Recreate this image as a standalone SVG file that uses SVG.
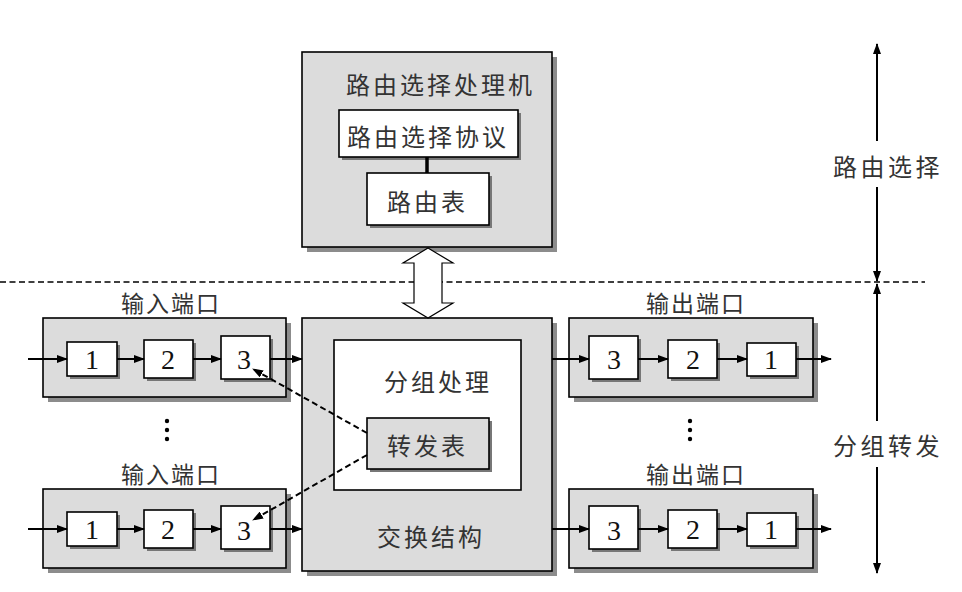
<svg xmlns="http://www.w3.org/2000/svg" width="962" height="592" viewBox="0 0 962 592">
<style>
.box{fill:#dcdcdc;stroke:#000;stroke-width:1.6}
.wbox{fill:#fff;stroke:#000;stroke-width:1.6}
.sh{fill:#8c8c8c}
.sh2{fill:#777}
.cn{font-family:"Noto Sans CJK SC","Noto Sans CJK JP",sans-serif;font-size:24px;letter-spacing:3px;fill:#333}
.cs{font-family:"Noto Sans CJK SC","Noto Sans CJK JP",sans-serif;font-size:23px;letter-spacing:2px;fill:#333}
.num{font-family:"Liberation Serif",serif;font-size:28px;fill:#111;text-anchor:middle}
.ln{stroke:#000;stroke-width:2;fill:none}
.dl{stroke:#000;stroke-width:2;fill:none;stroke-dasharray:6 3.5}
</style>
<defs>
<marker id="ah" viewBox="0 0 11 8" refX="10" refY="4" markerWidth="11" markerHeight="8" orient="auto" markerUnits="userSpaceOnUse"><path d="M0,0 L11,4 L0,8 z" fill="#000"/></marker>
</defs>

<!-- separator -->
<line x1="0" y1="282" x2="925" y2="282" stroke="#000" stroke-width="1.6" stroke-dasharray="6 3.5"/>

<g id="routing-processor">
<rect class="sh" x="307" y="57" width="250" height="195"/>
<rect class="box" x="302" y="52" width="250" height="195"/>
<text class="cn" x="346" y="94">路由选择处理机</text>
</g>
<g id="routing-protocol">
<rect class="sh2" x="342" y="113" width="179" height="47"/>
<rect class="wbox" x="339" y="110" width="179" height="47"/>
<text class="cn" x="347" y="146">路由选择协议</text>
</g>
<g id="routing-table">
<rect class="sh2" x="370" y="176" width="122" height="52"/>
<rect class="wbox" x="367" y="173" width="122" height="52"/>
<text class="cn" x="387" y="211">路由表</text>
</g>

<g id="switch-fabric">
<rect class="sh" x="307" y="323" width="250" height="253"/>
<rect class="box" x="302" y="318" width="250" height="253"/>
<text class="cn" x="377" y="546">交换结构</text>
</g>
<g id="packet-processing">
<rect class="wbox" x="334" y="340" width="187" height="150"/>
<text class="cn" x="384" y="391">分组处理</text>
</g>
<g id="forwarding-table">
<rect class="sh2" x="370" y="421" width="122" height="51"/>
<rect class="box" x="367" y="418" width="122" height="51"/>
<text class="cn" x="387" y="455">转发表</text>
</g>

<g id="input-port-1">
<text class="cs" x="121" y="312">输入端口</text>
<rect class="sh" x="48" y="323" width="243" height="79"/>
<rect class="box" x="43" y="318" width="243" height="79"/>
<rect class="sh2" x="70" y="345" width="50" height="34"/>
<rect class="wbox" x="67" y="342" width="50" height="34"/>
<text class="num" x="92" y="369">1</text>
<rect class="sh2" x="147" y="343" width="49" height="38"/>
<rect class="wbox" x="144" y="340" width="49" height="38"/>
<text class="num" x="168" y="369">2</text>
<rect class="sh2" x="224" y="339" width="49" height="43"/>
<rect class="wbox" x="221" y="336" width="49" height="43"/>
<text class="num" x="244" y="369">3</text>
</g>
<g id="input-port-2">
<text class="cs" x="121" y="483">输入端口</text>
<rect class="sh" x="48" y="494" width="243" height="79"/>
<rect class="box" x="43" y="489" width="243" height="79"/>
<rect class="sh2" x="70" y="515" width="50" height="34"/>
<rect class="wbox" x="67" y="512" width="50" height="34"/>
<text class="num" x="92" y="539">1</text>
<rect class="sh2" x="147" y="513" width="49" height="38"/>
<rect class="wbox" x="144" y="510" width="49" height="38"/>
<text class="num" x="168" y="539">2</text>
<rect class="sh2" x="224" y="509" width="49" height="43"/>
<rect class="wbox" x="221" y="506" width="49" height="43"/>
<text class="num" x="244" y="540">3</text>
</g>
<g id="output-port-1">
<text class="cs" x="646" y="312">输出端口</text>
<rect class="sh" x="574" y="323" width="244" height="79"/>
<rect class="box" x="569" y="318" width="244" height="79"/>
<rect class="sh2" x="592" y="339" width="49" height="43"/>
<rect class="wbox" x="589" y="336" width="49" height="43"/>
<text class="num" x="614" y="369">3</text>
<rect class="sh2" x="671" y="343" width="49" height="38"/>
<rect class="wbox" x="668" y="340" width="49" height="38"/>
<text class="num" x="693" y="369">2</text>
<rect class="sh2" x="750" y="346" width="49" height="33"/>
<rect class="wbox" x="747" y="343" width="49" height="33"/>
<text class="num" x="771" y="369">1</text>
</g>
<g id="output-port-2">
<text class="cs" x="646" y="483">输出端口</text>
<rect class="sh" x="574" y="494" width="244" height="79"/>
<rect class="box" x="569" y="489" width="244" height="79"/>
<rect class="sh2" x="592" y="509" width="49" height="43"/>
<rect class="wbox" x="589" y="506" width="49" height="43"/>
<text class="num" x="614" y="540">3</text>
<rect class="sh2" x="671" y="513" width="49" height="38"/>
<rect class="wbox" x="668" y="510" width="49" height="38"/>
<text class="num" x="693" y="539">2</text>
<rect class="sh2" x="750" y="516" width="49" height="33"/>
<rect class="wbox" x="747" y="513" width="49" height="33"/>
<text class="num" x="771" y="539">1</text>
</g>

<g id="ellipsis">
<circle cx="167" cy="421" r="2.2"/><circle cx="167" cy="430" r="2.2"/><circle cx="167" cy="439" r="2.2"/>
<circle cx="690" cy="421" r="2.2"/><circle cx="690" cy="430" r="2.2"/><circle cx="690" cy="439" r="2.2"/>
</g>

<g id="layer-labels">
<text class="cn" x="833" y="176" style="letter-spacing:3.5px">路由选择</text>
<text class="cn" x="833" y="455" style="letter-spacing:3.5px">分组转发</text>
</g>

<g id="connectors">
<line x1="427" y1="157" x2="427" y2="173" stroke="#000" stroke-width="3.5"/>
<path d="M428,248 L453,263 L442,263 L442,303 L453,303 L428,318 L403,303 L414,303 L414,263 L403,263 Z" fill="#fff" stroke="#000" stroke-width="1.2"/>
<line class="ln" x1="28" y1="359" x2="67" y2="359" marker-end="url(#ah)"/>
<line class="ln" x1="117" y1="359" x2="144" y2="359" marker-end="url(#ah)"/>
<line class="ln" x1="193" y1="359" x2="221" y2="359" marker-end="url(#ah)"/>
<line class="ln" x1="270" y1="359" x2="302" y2="359" marker-end="url(#ah)"/>
<line class="ln" x1="28" y1="529" x2="67" y2="529" marker-end="url(#ah)"/>
<line class="ln" x1="117" y1="529" x2="144" y2="529" marker-end="url(#ah)"/>
<line class="ln" x1="193" y1="529" x2="221" y2="529" marker-end="url(#ah)"/>
<line class="ln" x1="270" y1="529" x2="302" y2="529" marker-end="url(#ah)"/>
<line class="ln" x1="552" y1="359" x2="589" y2="359" marker-end="url(#ah)"/>
<line class="ln" x1="638" y1="359" x2="668" y2="359" marker-end="url(#ah)"/>
<line class="ln" x1="717" y1="359" x2="747" y2="359" marker-end="url(#ah)"/>
<line class="ln" x1="796" y1="359" x2="831" y2="359" marker-end="url(#ah)"/>
<line class="ln" x1="552" y1="529" x2="589" y2="529" marker-end="url(#ah)"/>
<line class="ln" x1="638" y1="529" x2="668" y2="529" marker-end="url(#ah)"/>
<line class="ln" x1="717" y1="529" x2="747" y2="529" marker-end="url(#ah)"/>
<line class="ln" x1="796" y1="529" x2="831" y2="529" marker-end="url(#ah)"/>
<line class="dl" x1="367" y1="433" x2="253" y2="369" marker-end="url(#ah)"/>
<line class="dl" x1="367" y1="455" x2="253" y2="520" marker-end="url(#ah)"/>
<line class="ln" x1="877" y1="141" x2="877" y2="44" marker-end="url(#ah)"/>
<line class="ln" x1="877" y1="187" x2="877" y2="281" marker-end="url(#ah)"/>
<line class="ln" x1="877" y1="421" x2="877" y2="284" marker-end="url(#ah)"/>
<line class="ln" x1="877" y1="467" x2="877" y2="573" marker-end="url(#ah)"/>
</g>
</svg>
